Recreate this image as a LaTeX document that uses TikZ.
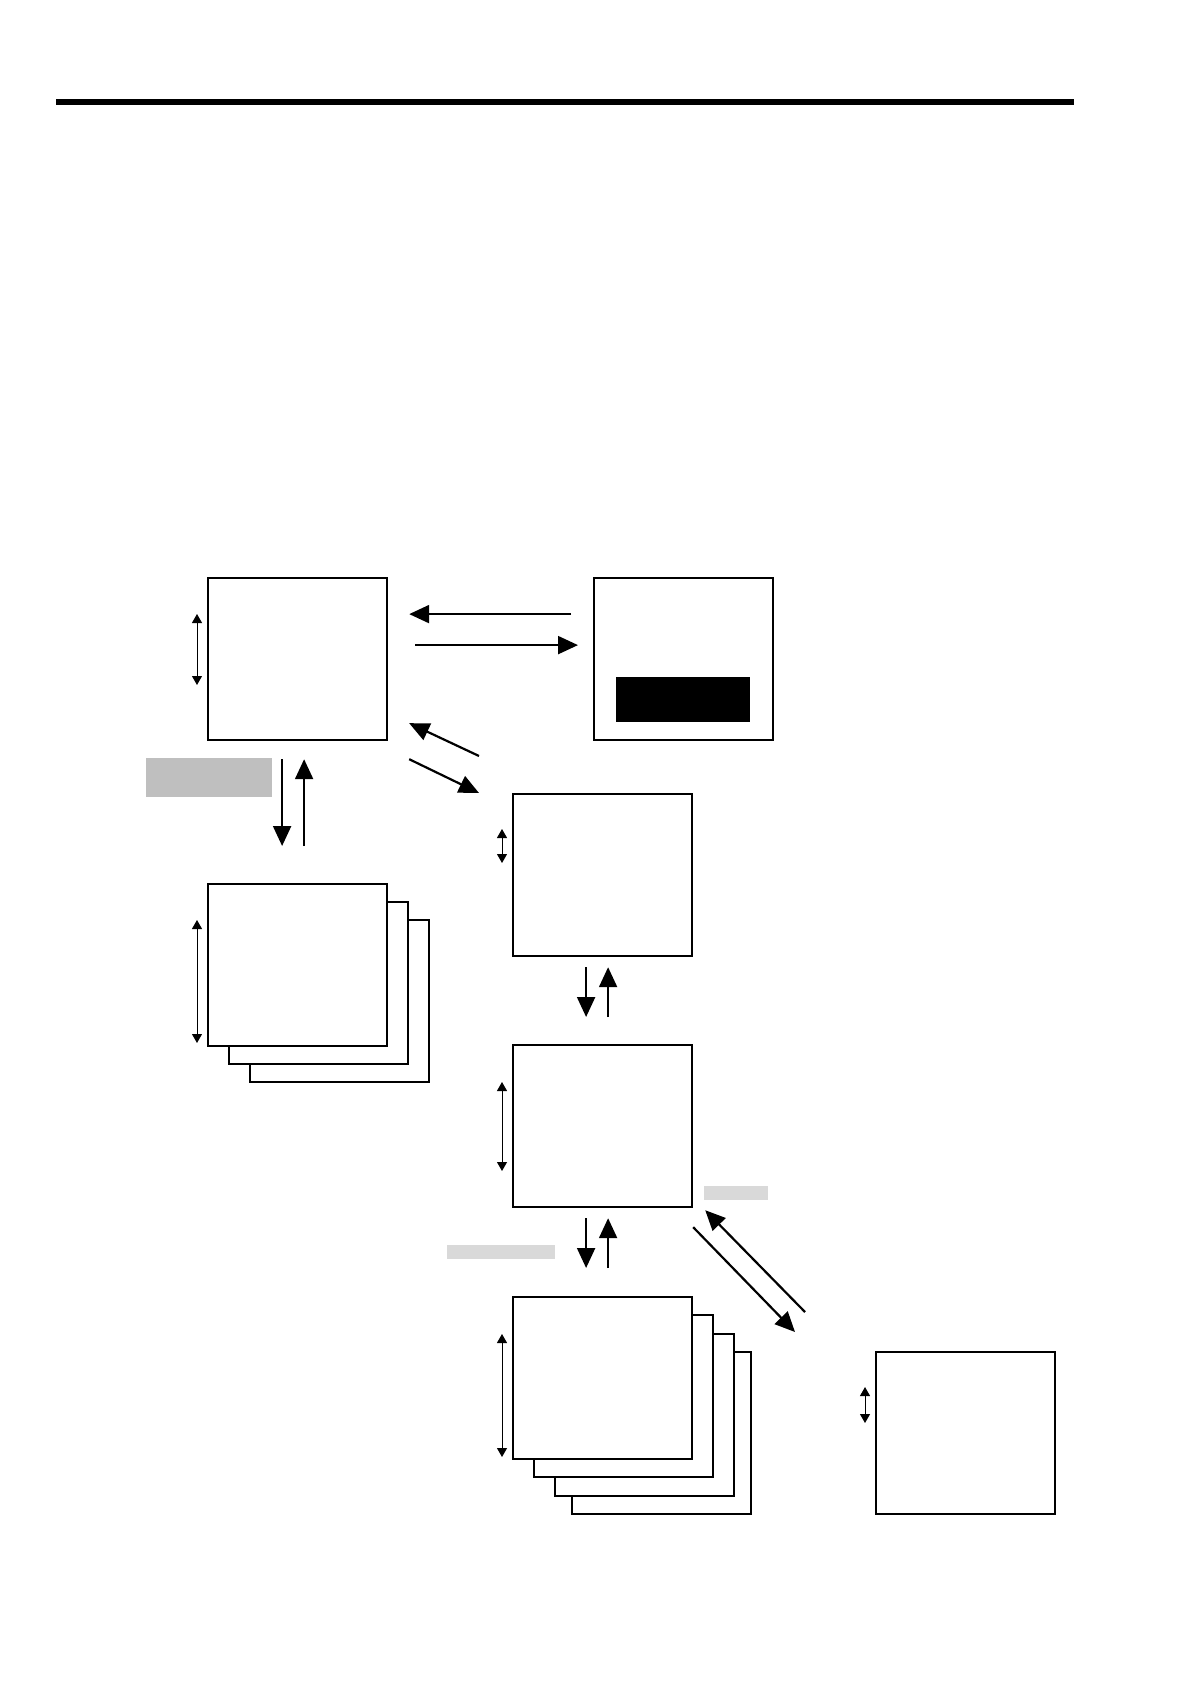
\documentclass[tikz,border=0pt]{standalone}
\usepackage{tikz}
\usetikzlibrary{arrows.meta,positioning}

\begin{document}
\begin{tikzpicture}[x=0.5pt, y=-0.5pt, thick,
    box/.style={rectangle, draw, line width=1.1pt, fill=white, anchor=north west, minimum width=89.5pt, minimum height=81pt, inner sep=0pt},
    tag/.style={rectangle, anchor=north west, inner sep=0pt},
    line/.style={draw, line width=1.1pt, -{Triangle[length=10pt,width=9pt]}},
    dim/.style={draw, line width=0.5pt, {Triangle[length=4.5pt,width=5pt]}-{Triangle[length=4.5pt,width=5pt]}}]

    \useasboundingbox (0,0) rectangle (1190,1684);
    \draw [line width=3pt] (56,102) -- (1074,102);

    \node [box] (mem) at (207,577) {};
    \node [box] (disp) at (593,577) {};
    \node [tag, fill=black, minimum width=67pt, minimum height=22.5pt] (dispbar) at (615,676) {};

    \node [box] (pg3) at (249,919) {};
    \node [box] (pg2) at (228,901) {};
    \node [box] (pg1) at (207,883) {};
    \node [tag, fill=black!25, minimum width=63pt, minimum height=19.5pt] (pgtag) at (145,757) {};

    \node [box] (dir) at (512,793) {};
    \node [box] (sub) at (512,1044) {};
    \node [tag, fill=black!15, minimum width=54pt, minimum height=7pt] (rectag) at (446,1244) {};
    \node [tag, fill=black!15, minimum width=32pt, minimum height=7pt] (exttag) at (703,1185) {};

    \node [box] (rec4) at (571,1351) {};
    \node [box] (rec3) at (554,1333) {};
    \node [box] (rec2) at (533,1314) {};
    \node [box] (rec1) at (512,1296) {};
    \node [box] (ext) at (875,1351) {};

    \path [line] ([yshift=22.5pt]disp.west) -- ([yshift=22.5pt]mem.east) [shorten <=11pt, shorten >=10.5pt];
    \draw [line, shorten <=13.5pt, shorten >=7.5pt] ([yshift=7pt]mem.east) -- ([yshift=7pt]disp.west);
    \path [line] ([shift={(-33,-37)}]dir.north west) -- ([shift={(21,-18)}]mem.south east);
    \path [line] ([shift={(21,18)}]mem.south east) -- ([shift={(-33,0)}]dir.north west);

    \path [line] ([shift={(-15.5,18)}]mem.south) -- ([shift={(-15.5,-37)}]pg1.north);
    \path [line] ([shift={(6.5,-37)}]pg1.north) -- ([shift={(6.5,18)}]mem.south);

    \path [line] ([shift={(-16.5,10)}]dir.south) -- ([shift={(-16.5,-27)}]sub.north);
    \path [line] ([shift={(5.5,-27)}]sub.north) -- ([shift={(5.5,10)}]dir.south);
    \path [line] ([shift={(-16.5,10)}]sub.south) -- ([shift={(-16.5,-28)}]rec1.north);
    \path [line] ([shift={(5.5,-28)}]rec1.north) -- ([shift={(5.5,10)}]sub.south);

    \path [line] ([shift={(-70,-39)}]ext.north west) -- ([shift={(12,2)}]sub.south east);
    \path [line] ([shift={(0,19)}]sub.south east) -- ([shift={(-80,-19)}]ext.north west);

    \path [dim] ([shift={(-10,37)}]mem.north west) -- ([shift={(-10,108)}]mem.north west);
    \path [dim] ([shift={(-10,37)}]pg1.north west) -- ([shift={(-10,160)}]pg1.north west);
    \path [dim] ([shift={(-10,36)}]dir.north west) -- ([shift={(-10,70)}]dir.north west);
    \path [dim] ([shift={(-10,38)}]sub.north west) -- ([shift={(-10,127)}]sub.north west);
    \path [dim] ([shift={(-10,38)}]rec1.north west) -- ([shift={(-10,161)}]rec1.north west);
    \path [dim] ([shift={(-10,36)}]ext.north west) -- ([shift={(-10,72)}]ext.north west);
\end{tikzpicture}
\end{document}
